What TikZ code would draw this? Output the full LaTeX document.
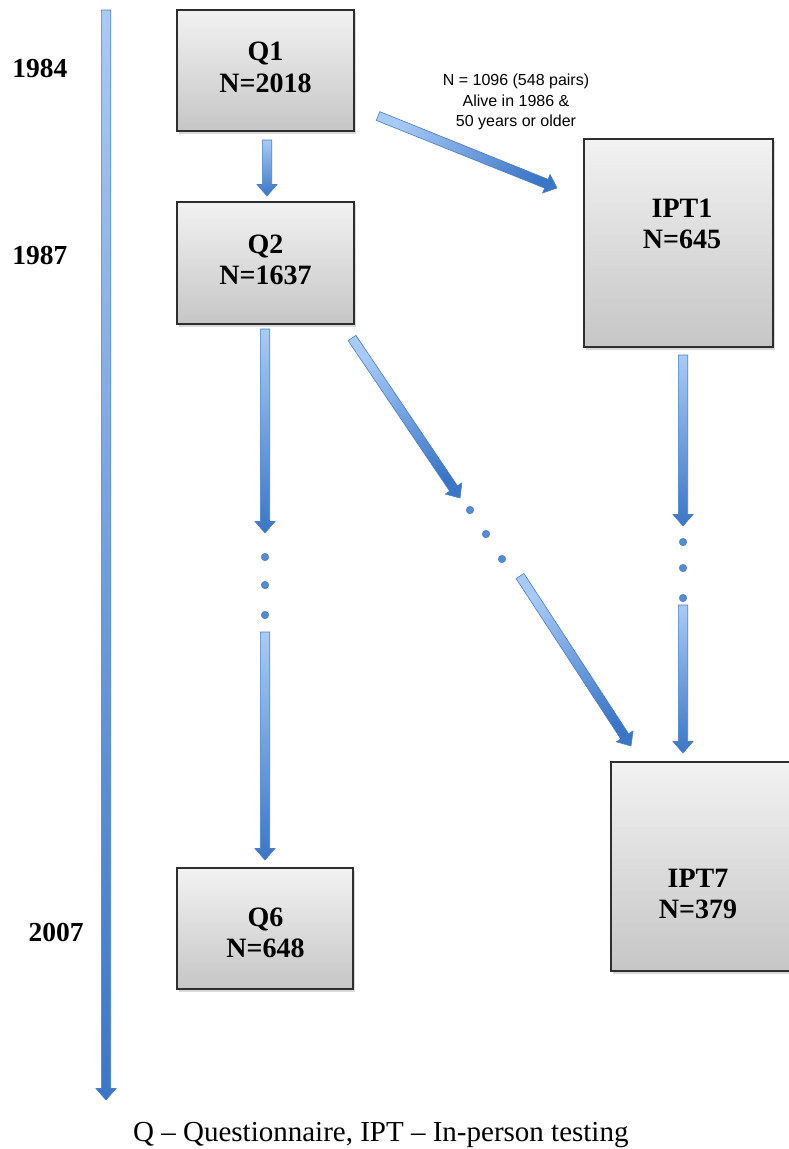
\documentclass[tikz,border=0pt]{standalone}
\usepackage{fontspec}
\setmainfont{Liberation Serif}
\newfontfamily\arialf{Liberation Sans}
\usetikzlibrary{calc,shadows}
\definecolor{alight}{HTML}{A8CAF7}
\definecolor{adark}{HTML}{3B76C6}
\definecolor{aborder}{HTML}{4A7EC0}
\definecolor{btop}{HTML}{F2F2F2}
\definecolor{bbot}{HTML}{C6C6C6}
\definecolor{bline}{HTML}{2E2E2E}
\newcommand\barrow[2]{%
  \path let \p1=(#1), \p2=(#2), \n1={atan2(\y2-\y1,\x2-\x1)-90} in \pgfextra{\xdef\bashang{\n1}};
  \coordinate (bahb) at ($(#2)!11.5pt!(#1)$);
  \shade[arrowbody, shading angle=\bashang]
   ($(#1)!4.7pt!90:(#2)$) -- ($(bahb)!4.7pt!90:(#2)$) -- ($(bahb)!10pt!90:(#2)$) -- (#2)
   -- ($(bahb)!10pt!-90:(#2)$) -- ($(bahb)!4.7pt!-90:(#2)$) -- ($(#1)!4.7pt!-90:(#2)$) -- cycle;
}
\begin{document}
\begin{tikzpicture}[x=1pt,y=-1pt,
  box/.style={draw=bline, line width=1.2pt, top color=btop, bottom color=bbot,
    drop shadow={opacity=0.3, shadow xshift=1.5pt, shadow yshift=-2.5pt}, inner sep=0pt},
  boxtext/.style={align=center, font=\bfseries\fontsize{28}{31.5}\selectfont, inner sep=0pt},
  year/.style={font=\bfseries\fontsize{27.5}{30}\selectfont, inner sep=0pt},
  lbl/.style={align=center, font=\arialf\fontsize{16}{20.5}\selectfont, inner sep=0pt},
  arrowbody/.style={draw=aborder, line width=0.6pt, top color=adark, bottom color=alight},
  dot/.style={circle, minimum size=7.5pt, inner sep=0pt, draw=aborder, line width=0.5pt, fill=adark!75!alight}]
\useasboundingbox (0,0) rectangle (788,1149);

% boxes
\node[box, minimum width=177pt, minimum height=121pt] (q1) at (265.5,70.5) {};
\node[box, minimum width=177pt, minimum height=122pt] (q2) at (265.5,263) {};
\node[box, minimum width=176pt, minimum height=121pt] (q6) at (265,928.5) {};
\node[box, minimum width=189pt, minimum height=208pt] (ipt1) at (678.5,243) {};
\node[box, minimum width=190pt, minimum height=209pt] (ipt7) at (706,866.5) {};

% box texts
\node[boxtext] (q1t) at (265.5,67.5) {Q1\\N=2018};
\node[boxtext] (q2t) at (265.5,260) {Q2\\N=1637};
\node[boxtext] (q6t) at (265.5,933) {Q6\\N=648};
\node[boxtext] (ipt1t) at (682,224) {IPT1\\N=645};
\node[boxtext] (ipt7t) at (698,894) {IPT7\\N=379};

% years
\node[year] (y1) at (40,68) {1984};
\node[year] (y2) at (40,255) {1987};
\node[year] (y3) at (56,932) {2007};

% label
\node[lbl] (lab) at (516,102) {N = 1096 (548 pairs)\\Alive in 1986 \&\\50 years or older};

% arrow end points
\coordinate (t0) at (106,10);
\coordinate (t1) at (106,1100);
\coordinate (a1s) at (267,140);
\coordinate (a1e) at (267,196);
\coordinate (a2s) at (378,116);
\coordinate (a2e) at (557,188);
\coordinate (a3s) at (265,329);
\coordinate (a3e) at (265,533);
\coordinate (a4s) at (265,632);
\coordinate (a4e) at (265,860);
\coordinate (a5s) at (352,338);
\coordinate (a5e) at (460,498);
\coordinate (a6s) at (520,576);
\coordinate (a6e) at (631,746);
\coordinate (a7s) at (683,355);
\coordinate (a7e) at (683,526);
\coordinate (a8s) at (683,605);
\coordinate (a8e) at (683,753);

\barrow{t0}{t1}
\barrow{a1s}{a1e}
\barrow{a2s}{a2e}
\barrow{a3s}{a3e}
\barrow{a4s}{a4e}
\barrow{a5s}{a5e}
\barrow{a6s}{a6e}
\barrow{a7s}{a7e}
\barrow{a8s}{a8e}

% dots
\node[dot] (d1) at (265,557) {};
\node[dot] (d2) at (265,585) {};
\node[dot] (d3) at (265,615) {};
\node[dot] (d4) at (470,510) {};
\node[dot] (d5) at (486,534) {};
\node[dot] (d6) at (502,559) {};
\node[dot] (d7) at (683,542) {};
\node[dot] (d8) at (683,568) {};
\node[dot] (d9) at (683,598) {};

% footer
\node[anchor=base west, inner sep=0pt, font=\fontsize{29}{34}\selectfont] (foot) at (133,1141) {Q -- Questionnaire, IPT -- In-person testing};
\end{tikzpicture}
\end{document}
